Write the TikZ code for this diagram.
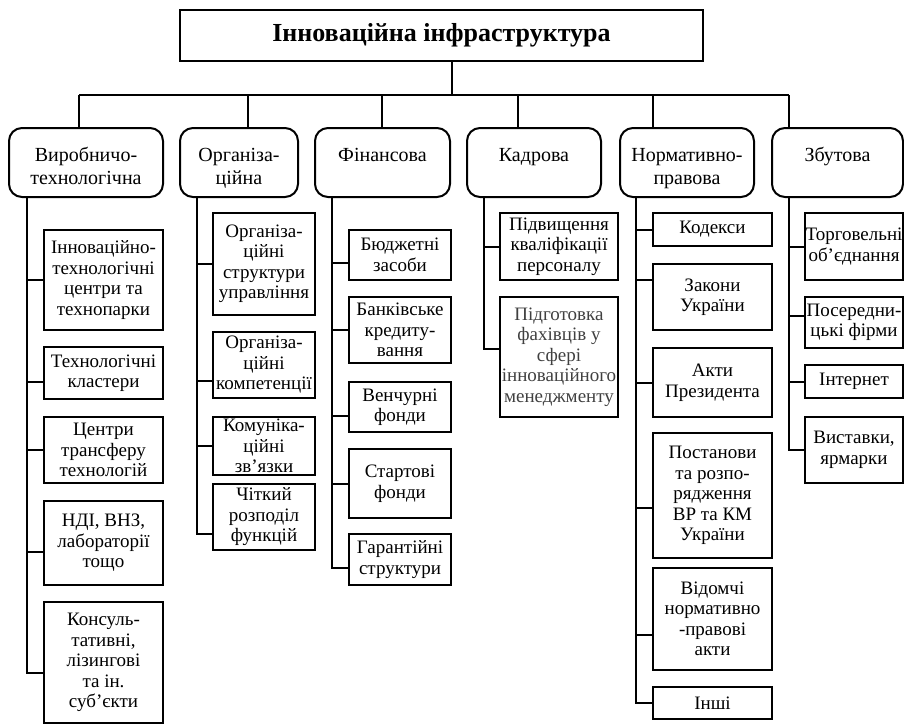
\documentclass[tikz,border=0pt]{standalone}
\usepackage{fontspec}
\setmainfont{Liberation Serif}

% two-line label of a branch box, lines kept on fixed baselines
\newcommand{\twolines}[2]{\rule{0pt}{27pt}#1\\#2\rule[-6pt]{0pt}{6pt}}

\tikzset{every picture/.style={line width=2pt}}
\tikzset{
	head/.style={draw, line width=2.2pt, minimum width=523, minimum height=51, inner sep=0pt, font=\fontsize{26}{29}\selectfont\bfseries},
	branch/.style={draw, rounded corners=13, line width=2pt, minimum height=69, inner sep=0pt, align=center, font=\fontsize{20}{23}\selectfont},
	leaf/.style={draw, line width=2.2pt, inner sep=0pt, align=center, font=\fontsize{19}{20.5}\selectfont},
	link/.style={line width=2pt},
}

\begin{document}
\begin{tikzpicture}[x=1pt,y=1pt,yscale=-1,xscale=1]
	\useasboundingbox (0,0) rectangle (904,725);

	% Title
	\node[head] (top) at (441.5,35.5) {Інноваційна інфраструктура};

	% Bus and drops
	\coordinate (t) at (452,95);
	\coordinate (d1) at (79,95);
	\coordinate (d2) at (248,95);
	\coordinate (d3) at (382,95);
	\coordinate (d4) at (518,95);
	\coordinate (d5) at (653,95);
	\coordinate (d6) at (789,95);

	% Branches
	\node[branch, minimum width=154] (b1) at (86,162.5) {\twolines{Виробничо-}{технологічна}};
	\node[branch, minimum width=118] (b2) at (239,162.5) {\twolines{Організа-}{ційна}};
	\node[branch, minimum width=135] (b3) at (382.5,162.5) {\twolines{Фінансова}{}};
	\node[branch, minimum width=134] (b4) at (534,162.5) {\twolines{Кадрова}{}};
	\node[branch, minimum width=134] (b5) at (687,162.5) {\twolines{Нормативно-}{правова}};
	\node[branch, minimum width=131] (b6) at (837.5,162.5) {\twolines{Збутова}{}};

	\draw[link] (t |- top.south) -- (t);
	\draw[link] (d1) -- (d6);
	\foreach \i in {1,...,6}
		\draw[link] (d\i) -- (d\i |- b\i.north);

	% Spine tops
	\coordinate (v1) at (27,196);
	\coordinate (v2) at (197,196);
	\coordinate (v3) at (332,196);
	\coordinate (v4) at (484,196);
	\coordinate (v5) at (636,196);
	\coordinate (v6) at (789,196);

	% Column 1
	\node[leaf, minimum width=119, minimum height=100] (c11) at (103.5,280) {Інноваційно-\\технологічні\\центри та\\технопарки};
	\node[leaf, minimum width=119, minimum height=52] (c12) at (103.5,373) {Технологічні\\кластери};
	\node[leaf, minimum width=119, minimum height=66] (c13) at (103.5,450) {Центри\\трансферу\\технологій};
	\node[leaf, minimum width=119, minimum height=84] (c14) at (103.5,543) {НДІ, ВНЗ,\\лабораторії\\тощо};
	\node[leaf, minimum width=119, minimum height=121] (c15) at (103.5,662.5) {Консуль-\\тативні,\\лізингові\\та ін.\\суб’єкти};

	% Column 2
	\node[leaf, minimum width=102, minimum height=102] (c21) at (264,264) {Організа-\\ційні\\структури\\управління};
	\node[leaf, minimum width=102, minimum height=66] (c22) at (264,365) {Організа-\\ційні\\компетенції};
	\node[leaf, minimum width=102, minimum height=58] (c23) at (264,446) {Комуніка-\\ційні\\зв’язки};
	\node[leaf, minimum width=102, minimum height=66] (c24) at (264,517) {Чіткий\\розподіл\\функцій};

	% Column 3
	\node[leaf, minimum width=102, minimum height=50] (c31) at (400,255) {Бюджетні\\засоби};
	\node[leaf, minimum width=102, minimum height=66] (c32) at (400,330) {Банківське\\кредиту-\\вання};
	\node[leaf, minimum width=102, minimum height=50] (c33) at (400,407) {Венчурні\\фонди};
	\node[leaf, minimum width=102, minimum height=69] (c34) at (400,483.5) {Стартові\\фонди};
	\node[leaf, minimum width=102, minimum height=51] (c35) at (400,559.5) {Гарантійні\\структури};

	% Column 4
	\node[leaf, minimum width=118, minimum height=67] (c41) at (559,246.5) {Підвищення\\кваліфікації\\персоналу};
	\node[leaf, minimum width=118, minimum height=120, text=black!75] (c42) at (559,357) {Підготовка\\фахівців у\\сфері\\інноваційного\\менеджменту};

	% Column 5
	\node[leaf, minimum width=119, minimum height=33] (c51) at (712.5,229.5) {Кодекси};
	\node[leaf, minimum width=119, minimum height=66] (c52) at (712.5,297) {Закони\\України};
	\node[leaf, minimum width=119, minimum height=69] (c53) at (712.5,382.5) {Акти\\Президента};
	\node[leaf, minimum width=119, minimum height=125] (c54) at (712.5,495.5) {Постанови\\та розпо-\\рядження\\ВР та КМ\\України};
	\node[leaf, minimum width=119, minimum height=102] (c55) at (712.5,619) {Відомчі\\нормативно\\-правові\\акти};
	\node[leaf, minimum width=119, minimum height=32] (c56) at (712.5,703) {Інші};

	% Column 6
	\node[leaf, minimum width=98, minimum height=67] (c61) at (854,246.5) {Торговельні\\об’єднання};
	\node[leaf, minimum width=98, minimum height=51] (c62) at (854,322.5) {Посередни-\\цькі фірми};
	\node[leaf, minimum width=98, minimum height=33] (c63) at (854,381.5) {Інтернет};
	\node[leaf, minimum width=98, minimum height=66] (c64) at (854,450) {Виставки,\\ярмарки};

	% Connectors
	\foreach \n/\s in {c11/0,c12/9,c13/0,c14/9,c15/10}
		\draw[link] (v1) |- ([yshift=\s]\n.west);
	\foreach \n/\s in {c21/0,c22/16,c23/0,c24/17}
		\draw[link] (v2) |- ([yshift=\s]\n.west);
	\foreach \n/\s in {c31/8,c32/0,c33/9,c34/0,c35/8}
		\draw[link] (v3) |- ([yshift=\s]\n.west);
	\foreach \n/\s in {c41/0,c42/-8}
		\draw[link] (v4) |- ([yshift=\s]\n.west);
	\foreach \n/\s in {c51/0,c52/-17,c53/0,c54/12,c55/16,c56/0}
		\draw[link] (v5) |- ([yshift=\s]\n.west);
	\foreach \n/\s in {c61/0,c62/-7,c63/0,c64/0}
		\draw[link] (v6) |- ([yshift=\s]\n.west);

\end{tikzpicture}
\end{document}
